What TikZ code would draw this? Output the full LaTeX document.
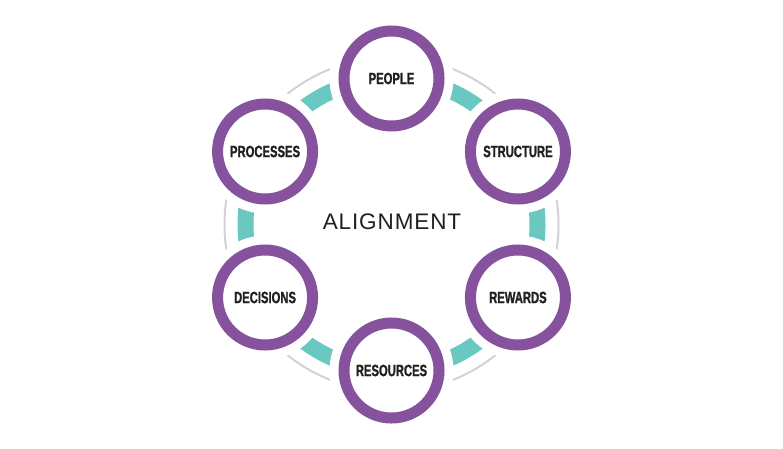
\documentclass[tikz,border=0pt]{standalone}
\usepackage{fontspec}
\setmainfont{Liberation Sans}
\newfontfamily\condfont[FakeStretch=0.69,FakeBold=1.2]{Liberation Sans}
\newfontfamily\alignfont[LetterSpace=4]{Liberation Sans}
\usetikzlibrary{calc}
\definecolor{ringpurple}{HTML}{86519D}
\definecolor{linkteal}{HTML}{6AC8C0}
\definecolor{arcgray}{HTML}{D2D2D2}
\definecolor{inkdark}{HTML}{231F20}
\tikzset{
  grayarc/.style={draw=arcgray, line width=2pt},
  tealring/.style={draw=linkteal, line width=16pt},
  gapdisc/.style={fill=white},
  ringnode/.style={circle, draw=ringpurple, line width=11pt, fill=white,
    minimum size=95pt, inner sep=0pt, text=inkdark,
    font=\condfont\bfseries\fontsize{16.3}{17}\selectfont},
  centertext/.style={text=inkdark, inner sep=0pt,
    font=\alignfont\fontsize{22.5}{23}\selectfont}
}
\begin{document}
\begin{tikzpicture}[x=1pt,y=1pt]
\useasboundingbox (0,0) rectangle (783,448);
\coordinate (c) at (391.5,223.5);
\draw[grayarc] (c) circle (167);
\draw[tealring] (c) circle (146);
\foreach \a/\n/\t in {90/people/PEOPLE, 30/structure/STRUCTURE, -30/rewards/REWARDS,
  -90/resources/RESOURCES, 210/decisions/DECISIONS, 150/processes/PROCESSES} {
  \fill[gapdisc] ($(c)+(\a:146)$) circle (62);
  \node[ringnode] (\n) at ($(c)+(\a:146)$) {\t};
}
\node[centertext] (align) at (392,226.5) {ALIGNMENT};
\end{tikzpicture}
\end{document}
